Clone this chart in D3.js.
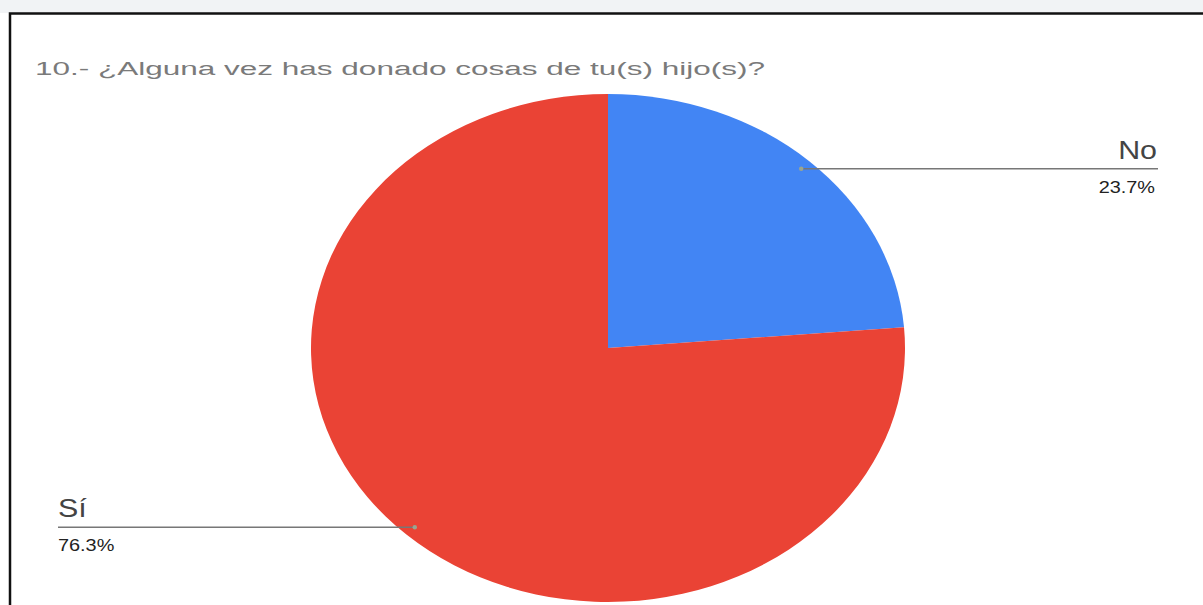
<!DOCTYPE html>
<html>
<head>
<meta charset="utf-8">
<script src="https://cdn.jsdelivr.net/npm/d3@7"></script>
<style>
  body { margin: 0; background: #fff; }
  svg { display: block; font-family: "Liberation Sans", Arial, sans-serif; }
</style>
</head>
<body>
<svg id="chart" width="1203" height="605"></svg>
<script>
var title = "10.- ¿Alguna vez has donado cosas de tu(s) hijo(s)?";
var categories = ["No", "Sí"];
var values = [23.7, 76.3];
var colors = ["#4285f4", "#ea4335"];

var width = 1203, height = 605;
var cx = 608, cy = 348, radius = 254, stretch = 297 / 254;

var svg = d3.select("#chart");

// frame
svg.append("rect").attr("x", 0).attr("y", 0).attr("width", width).attr("height", 13).attr("fill", "#f1f3f5");
svg.append("path")
  .attr("d", "M10," + height + "V13.5H" + width)
  .attr("fill", "none").attr("stroke", "#111").attr("stroke-width", 2.5);

svg.append("text")
  .attr("x", 35).attr("y", 75)
  .attr("font-size", 18)
  .attr("fill", "#7a7a7a")
  .attr("textLength", 730)
  .attr("lengthAdjust", "spacingAndGlyphs")
  .text(title);

var pie = d3.pie().sort(null).value(function(d) { return d; });
var arcs = pie(values);

var arc = d3.arc().innerRadius(0).outerRadius(radius);
var dotArc = d3.arc().innerRadius(radius * 0.96).outerRadius(radius * 0.96);

var g = svg.append("g")
  .attr("transform", "translate(" + cx + "," + cy + ") scale(" + stretch + ",1)");

g.selectAll("path")
  .data(arcs)
  .enter().append("path")
  .attr("d", arc)
  .attr("fill", function(d, i) { return colors[i]; });

// leader lines and labels
var labelEnds = [1158, 58];
arcs.forEach(function(d, i) {
  var c = dotArc.centroid(d);
  var px = cx + c[0] * stretch, py = cy + c[1];
  var right = px > cx;
  var lx = labelEnds[i];
  svg.append("line")
    .attr("x1", px).attr("y1", py)
    .attr("x2", lx).attr("y2", py)
    .attr("stroke", "#777").attr("stroke-width", 1.5);
  svg.append("circle")
    .attr("cx", px).attr("cy", py).attr("r", 2.2)
    .attr("fill", "#9aa590");
  svg.append("text")
    .attr("transform", "translate(" + (right ? lx - 1 : lx) + "," + (py - 10) + ") scale(" + stretch + ",1)")
    .attr("text-anchor", right ? "end" : "start")
    .attr("font-size", 26)
    .attr("fill", "#444")
    .text(categories[i]);
  svg.append("text")
    .attr("transform", "translate(" + (right ? lx - 3 : lx) + "," + (py + 24) + ") scale(" + stretch + ",1)")
    .attr("text-anchor", right ? "end" : "start")
    .attr("font-size", 17)
    .attr("fill", "#222")
    .text(values[i].toFixed(1) + "%");
});
</script>
</body>
</html>
